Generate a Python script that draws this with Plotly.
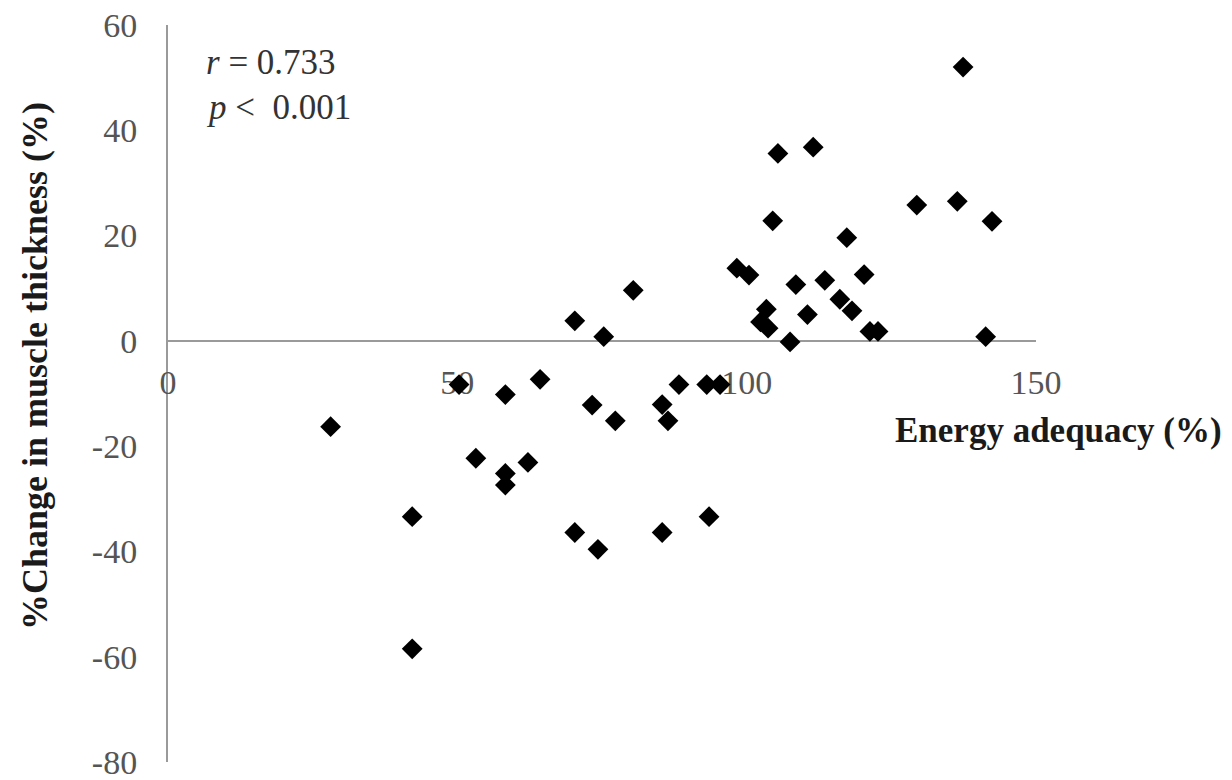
import plotly.graph_objects as go

# Energy adequacy (%) and % change in muscle thickness (%)
energy_adequacy = [
    137.4, 105.4, 111.5, 129.4, 136.4, 142.4, 104.5, 117.3, 98.3, 100.4,
    80.4, 108.5, 113.5, 120.3, 70.3, 75.3, 103.4, 102.4, 103.7, 110.5,
    116.1, 118.2, 121.3, 122.7, 107.5, 141.3,
    50.3, 58.3, 64.3, 28.1, 53.2, 58.3, 58.3, 62.2, 42.2, 42.2,
    70.3, 74.3, 73.3, 77.3, 85.4, 86.4, 88.3, 93.1, 95.4, 85.4, 93.5,
]
muscle_change = [
    52.0, 35.6, 36.8, 25.8, 26.5, 22.7, 22.8, 19.6, 13.8, 12.5,
    9.6, 10.7, 11.5, 12.6, 3.8, 0.8, 6.0, 3.6, 2.4, 5.0,
    7.9, 5.7, 1.8, 1.8, -0.2, 0.8,
    -8.3, -10.2, -7.3, -16.3, -22.3, -25.2, -27.4, -23.1, -33.4, -58.5,
    -36.4, -39.6, -12.2, -15.2, -12.1, -15.2, -8.3, -8.3, -8.3, -36.4, -33.4,
]

x_ticks = [0, 50, 100, 150]
y_ticks = [-80, -60, -40, -20, 0, 20, 40, 60]
x_title = "Energy adequacy (%)"
y_title = "%Change in muscle thickness (%)"
stat_r = "<i>r</i> = 0.733"
stat_p = "<i>p</i> &lt;  0.001"

SERIF = "Liberation Serif, Times New Roman, serif"
y_min, y_max = -80, 60

W, H = 1232, 780
OFF = 8  # page body margin offset
plot_l, plot_r, plot_t, plot_b = 168 - OFF, 1036 - OFF, 25 - OFF, 762 - OFF
PW, PH = plot_r - plot_l, plot_b - plot_t


def px(xp):
    return (xp - OFF - plot_l) / PW


def py(yp):
    return (plot_b - (yp - OFF)) / PH


fig = go.Figure()
fig.add_trace(go.Scatter(
    x=energy_adequacy, y=muscle_change, mode="markers",
    marker=dict(symbol="diamond", size=16, color="black", line=dict(width=0)),
    showlegend=False, cliponaxis=False,
))

fig.update_layout(
    width=W, height=H,
    margin=dict(l=plot_l, r=W - plot_r, t=plot_t, b=H - plot_b, autoexpand=False),
    paper_bgcolor="white", plot_bgcolor="white",
    font=dict(family=SERIF, size=34, color="#595959"),
    xaxis=dict(
        range=[0, 150], tickvals=x_ticks, ticktext=[str(v) for v in x_ticks],
        showgrid=False, zeroline=False, showline=True, linecolor="#9a9a9a", linewidth=2,
        ticks="", anchor="free", position=(0 - y_min) / (y_max - y_min),
        ticklabelstandoff=11, layer="below traces", automargin=False,
        ticklabeloverflow="allow",
        tickfont=dict(family=SERIF, size=34, color="#555555"),
    ),
    yaxis=dict(
        range=[y_min, y_max], tickvals=y_ticks, ticktext=[str(v) for v in y_ticks],
        showgrid=False, zeroline=False, showline=True, linecolor="#9a9a9a", linewidth=2,
        ticks="", ticklabelstandoff=22, layer="below traces", automargin=False,
        ticklabeloverflow="allow",
        tickfont=dict(family=SERIF, size=34, color="#555555"),
    ),
)

# axis titles
fig.add_annotation(
    text=f"<b>{x_title}</b>", xref="paper", yref="paper",
    x=px(1224), y=py(431), xanchor="right", yanchor="middle",
    showarrow=False, font=dict(family=SERIF, size=35, color="#1a1a1a"),
)
fig.add_annotation(
    text=f"<b>{y_title}</b>", xref="paper", yref="paper", textangle=-90,
    x=px(35), y=py(366), xanchor="center", yanchor="middle",
    showarrow=False, font=dict(family=SERIF, size=36, color="#1a1a1a"),
)
# statistics
fig.add_annotation(
    text=stat_r, xref="paper", yref="paper",
    x=px(204), y=py(63), xanchor="left", yanchor="middle",
    showarrow=False, font=dict(family=SERIF, size=35, color="#333333"),
)
fig.add_annotation(
    text=stat_p, xref="paper", yref="paper",
    x=px(204), y=py(107), xanchor="left", yanchor="middle",
    showarrow=False, font=dict(family=SERIF, size=35, color="#333333"),
)

fig.write_html("out.html")
